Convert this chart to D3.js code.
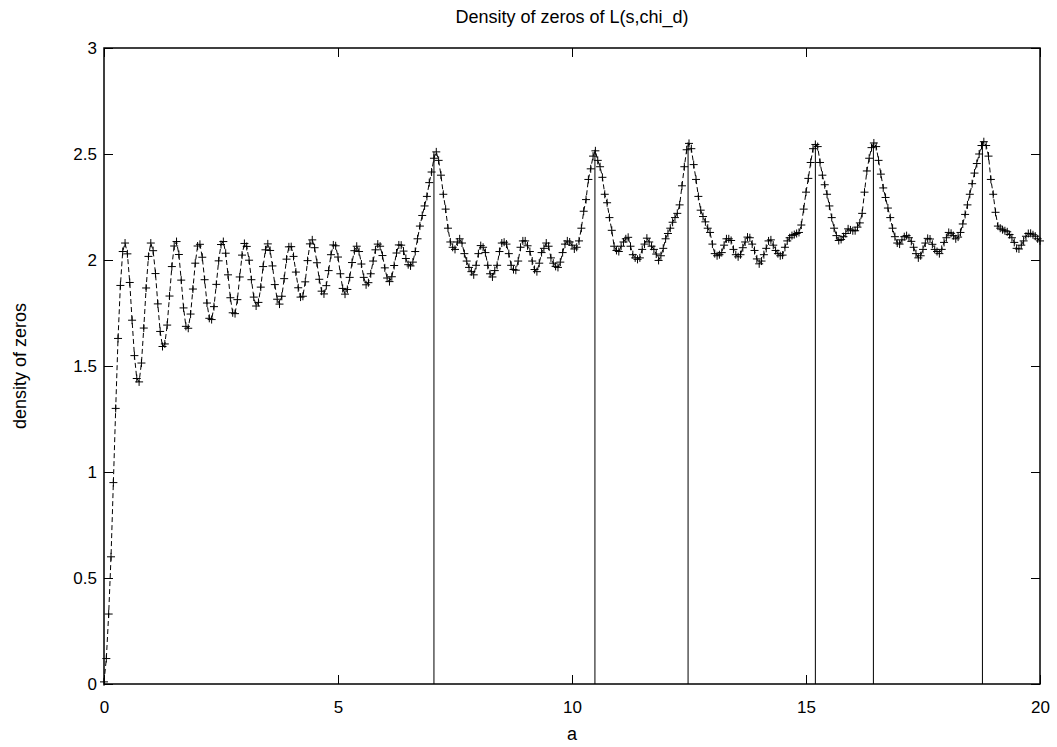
<!DOCTYPE html>
<html>
<head>
<meta charset="utf-8">
<script src="https://cdn.jsdelivr.net/npm/d3@7"></script>
<style>
  body { margin: 0; background: #fff; }
  svg { display: block; font-family: "Liberation Sans", Arial, sans-serif; }
  .axis path { display: none; }
  .axis line { stroke: #000; }
  .axis text { font-size: 17px; fill: #000; }
</style>
</head>
<body>
<div id="chart"></div>
<script>
// sampling of a: starts at 0, one point every 0.05
const aStart = 0;
const aStep = 0.05;

// density of zeros, one value per sample of a
const density = [
  0.01, 0.12, 0.33, 0.60, 0.95, 1.30, 1.63, 1.88, 2.04, 2.08,
  2.029, 1.894, 1.716, 1.549, 1.441, 1.425, 1.514, 1.679, 1.868, 2.017,
  2.08, 2.044, 1.936, 1.793, 1.663, 1.592, 1.604, 1.693, 1.83, 1.969,
  2.066, 2.087, 2.026, 1.905, 1.774, 1.687, 1.678, 1.745, 1.863, 1.985,
  2.066, 2.074, 2.013, 1.907, 1.797, 1.725, 1.719, 1.78, 1.885, 1.996,
  2.073, 2.087, 2.032, 1.93, 1.822, 1.751, 1.747, 1.813, 1.92, 2.023,
  2.078, 2.064, 1.999, 1.907, 1.825, 1.783, 1.80, 1.872, 1.969, 2.048,
  2.076, 2.045, 1.972, 1.884, 1.815, 1.792, 1.829, 1.912, 2.004, 2.062,
  2.063, 2.017, 1.943, 1.869, 1.825, 1.829, 1.897, 1.997, 2.076, 2.095,
  2.058, 1.987, 1.909, 1.853, 1.84, 1.879, 1.95, 2.025, 2.071, 2.067,
  2.014, 1.935, 1.866, 1.839, 1.861, 1.918, 1.988, 2.044, 2.065, 2.04,
  1.981, 1.918, 1.883, 1.893, 1.935, 1.995, 2.048, 2.075, 2.065, 2.021,
  1.963, 1.915, 1.898, 1.921, 1.974, 2.033, 2.071, 2.07, 2.042, 2.007,
  1.978, 1.972, 1.99, 2.04, 2.10, 2.16, 2.21, 2.255, 2.30, 2.365,
  2.415, 2.48, 2.51, 2.47, 2.40, 2.31, 2.24, 2.15, 2.085, 2.06,
  2.05, 2.085, 2.10, 2.08, 2.03, 1.995, 1.965, 1.945, 1.93, 1.975,
  2.03, 2.068, 2.06, 2.035, 1.975, 1.935, 1.92, 1.95, 1.975, 2.04,
  2.08, 2.084, 2.075, 2.03, 1.975, 1.955, 1.952, 1.995, 2.06, 2.09,
  2.09, 2.067, 2.04, 1.995, 1.955, 1.945, 1.985, 2.035, 2.055, 2.08,
  2.065, 2.01, 1.985, 1.97, 1.965, 1.99, 2.035, 2.075, 2.09, 2.085,
  2.07, 2.052, 2.06, 2.09, 2.15, 2.23, 2.285, 2.38, 2.43, 2.49,
  2.515, 2.47, 2.44, 2.39, 2.31, 2.27, 2.20, 2.14, 2.065, 2.045,
  2.04, 2.065, 2.085, 2.10, 2.107, 2.065, 2.025, 2.01, 2.003, 2.01,
  2.05, 2.075, 2.103, 2.085, 2.065, 2.05, 2.028, 1.998, 2.02, 2.055,
  2.10, 2.125, 2.15, 2.178, 2.20, 2.22, 2.26, 2.35, 2.44, 2.52,
  2.55, 2.525, 2.45, 2.38, 2.30, 2.235, 2.205, 2.18, 2.15, 2.13,
  2.075, 2.03, 2.02, 2.025, 2.035, 2.07, 2.10, 2.10, 2.092, 2.05,
  2.025, 2.015, 2.025, 2.058, 2.085, 2.108, 2.105, 2.075, 2.045, 2.005,
  1.982, 1.995, 2.025, 2.055, 2.09, 2.095, 2.07, 2.045, 2.03, 2.02,
  2.023, 2.06, 2.09, 2.105, 2.115, 2.12, 2.125, 2.13, 2.165, 2.24,
  2.32, 2.385, 2.46, 2.525, 2.545, 2.535, 2.46, 2.40, 2.355, 2.31,
  2.255, 2.20, 2.15, 2.115, 2.092, 2.097, 2.11, 2.125, 2.147, 2.142,
  2.138, 2.138, 2.155, 2.175, 2.22, 2.32, 2.42, 2.48, 2.53, 2.552,
  2.535, 2.47, 2.405, 2.34, 2.295, 2.245, 2.20, 2.15, 2.11, 2.08,
  2.075, 2.095, 2.11, 2.115, 2.105, 2.088, 2.06, 2.03, 2.01, 2.02,
  2.05, 2.08, 2.102, 2.099, 2.074, 2.05, 2.04, 2.03, 2.05, 2.083,
  2.105, 2.13, 2.126, 2.115, 2.10, 2.108, 2.13, 2.17, 2.215, 2.26,
  2.31, 2.36, 2.41, 2.455, 2.50, 2.54, 2.558, 2.54, 2.49, 2.38,
  2.31, 2.225, 2.16, 2.15, 2.143, 2.138, 2.133, 2.12, 2.105, 2.083,
  2.055, 2.052, 2.07, 2.09, 2.112, 2.125, 2.126, 2.119, 2.112, 2.10,
  2.09
];

// vertical impulses at the large peaks
const peakA = [7.05, 10.49, 12.48, 15.2, 16.44, 18.77];
const peakV = [2.51, 2.52, 2.555, 2.548, 2.553, 2.56];

const xTicks = [0, 5, 10, 15, 20];
const yTicks = [0, 0.5, 1, 1.5, 2, 2.5, 3];

const title = "Density of zeros of L(s,chi_d)";
const xLabel = "a";
const yLabel = "density of zeros";

const width = 1057, height = 747;
const margin = { top: 48, right: 17, bottom: 63, left: 104 };
const innerWidth = width - margin.left - margin.right;
const innerHeight = height - margin.top - margin.bottom;

const data = density.map((v, i) => ({ a: aStart + i * aStep, v }));
const peaks = peakA.map((a, i) => ({ a, v: peakV[i] }));

const svg = d3.select("#chart")
  .append("svg")
  .attr("width", width)
  .attr("height", height);

const g = svg.append("g")
  .attr("transform", `translate(${margin.left},${margin.top})`);

const x = d3.scaleLinear().domain([0, 20]).range([0, innerWidth]);
const y = d3.scaleLinear().domain([0, 3]).range([innerHeight, 0]);

// axes, ticks pointing inwards on all four sides
g.append("g")
  .attr("class", "axis")
  .attr("transform", `translate(0,${innerHeight})`)
  .call(d3.axisBottom(x).tickValues(xTicks).tickFormat(d3.format("~g")).tickSizeInner(-9).tickSizeOuter(0))
  .selectAll("text").attr("dy", "0").attr("y", 29);

g.append("g")
  .attr("class", "axis")
  .call(d3.axisTop(x).tickValues(xTicks).tickSizeInner(-9).tickSizeOuter(0))
  .selectAll("text").remove();

g.append("g")
  .attr("class", "axis")
  .call(d3.axisLeft(y).tickValues(yTicks).tickFormat(d3.format("~g")).tickSizeInner(-9).tickSizeOuter(0))
  .selectAll("text").attr("x", -7);

g.append("g")
  .attr("class", "axis")
  .attr("transform", `translate(${innerWidth},0)`)
  .call(d3.axisRight(y).tickValues(yTicks).tickSizeInner(-9).tickSizeOuter(0))
  .selectAll("text").remove();

// impulses
g.selectAll(".impulse")
  .data(peaks)
  .join("line")
  .attr("class", "impulse")
  .attr("x1", d => x(d.a))
  .attr("x2", d => x(d.a))
  .attr("y1", y(0))
  .attr("y2", d => y(d.v))
  .attr("stroke", "#000")
  .attr("stroke-width", 1);

// dashed curve
const line = d3.line().x(d => x(d.a)).y(d => y(d.v));
g.append("path")
  .datum(data)
  .attr("d", line)
  .attr("fill", "none")
  .attr("stroke", "#000")
  .attr("stroke-width", 1)
  .attr("stroke-dasharray", "5,3");

// plus markers
g.selectAll(".pt")
  .data(data)
  .join("path")
  .attr("class", "pt")
  .attr("transform", d => `translate(${x(d.a)},${y(d.v)})`)
  .attr("d", "M-4,0H4M0,-4V4")
  .attr("stroke", "#000")
  .attr("stroke-width", 1)
  .attr("fill", "none");

// frame
g.append("rect")
  .attr("width", innerWidth)
  .attr("height", innerHeight)
  .attr("fill", "none")
  .attr("stroke", "#000")
  .attr("stroke-width", 1.5);

// labels
svg.append("text")
  .attr("x", margin.left + innerWidth / 2)
  .attr("y", 23)
  .attr("text-anchor", "middle")
  .attr("font-size", 18)
  .text(title);

svg.append("text")
  .attr("x", margin.left + innerWidth / 2)
  .attr("y", 740)
  .attr("text-anchor", "middle")
  .attr("font-size", 18)
  .text(xLabel);

svg.append("text")
  .attr("transform", "rotate(-90)")
  .attr("x", -(margin.top + innerHeight / 2))
  .attr("y", 26)
  .attr("text-anchor", "middle")
  .attr("font-size", 18)
  .text(yLabel);
</script>
</body>
</html>
